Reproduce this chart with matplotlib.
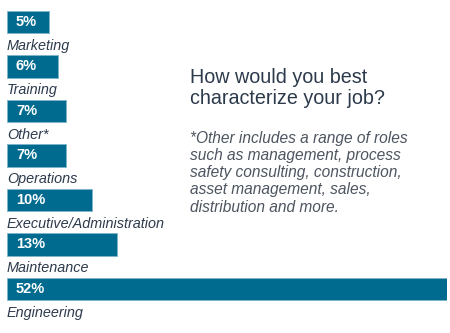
import matplotlib.pyplot as plt
from matplotlib import transforms

roles = ["Marketing", "Training", "Other*", "Operations",
         "Executive/Administration", "Maintenance", "Engineering"]
shares = [5, 6, 7, 7, 10, 13, 52]

title = "How would you best\ncharacterize your job?"
note = ("*Other includes a range of roles\n"
        "such as management, process\n"
        "safety consulting, construction,\n"
        "asset management, sales,\n"
        "distribution and more.")

bar_color = "#006a8f"
label_color = "#2c3a4c"

plt.rcParams["font.family"] = ["Liberation Sans", "DejaVu Sans"]

fig = plt.figure(figsize=(4.5, 3.33), dpi=100)
ax = fig.add_axes([7 / 450, 0, 440 / 450, 1])

pos = list(range(len(roles)))
ax.barh(pos, shares, height=0.5, color=bar_color, edgecolor="#7fb3cc",
        linewidth=0.6)
ax.set_xlim(0, max(shares))
ax.set_ylim(6.99, -0.494)
ax.axis("off")

# percent inside each bar, category name underneath
pad = transforms.offset_copy(ax.transData, fig=fig, x=9, y=0, units="dots")
for i, (name, v) in enumerate(zip(roles, shares)):
    ax.text(0, i, f"{v}%", transform=pad, color="white", fontsize=10.5,
            fontweight="bold", va="center", ha="left")
    ax.text(0, i + 0.53, name, color=label_color, fontsize=10.4,
            fontstyle="italic", va="center", ha="left")

fig.text(190 / 450, 1 - 68 / 333, title, color=label_color, fontsize=14.2,
         va="top", ha="left", linespacing=1.1)
fig.text(190 / 450, 1 - 131 / 333, note, color="#4d5560", fontsize=11.2,
         fontstyle="italic", va="top", ha="left", linespacing=1.18)

fig.savefig("out.png", dpi=100)
